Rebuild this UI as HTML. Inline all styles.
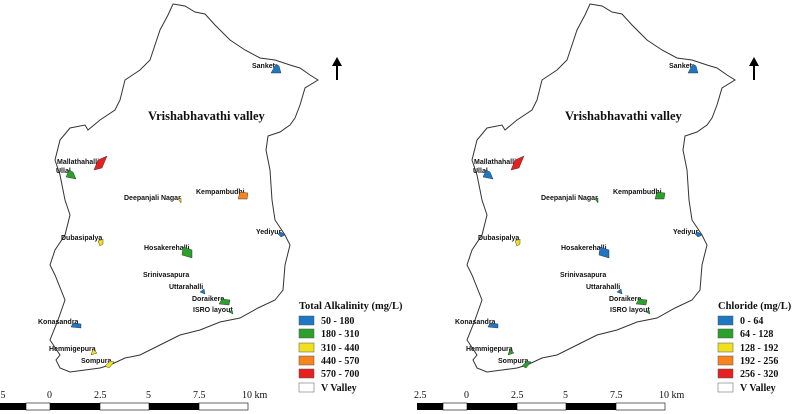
<!DOCTYPE html>
<html><head><style>
body{margin:0;background:#fff;}
svg{display:block;}
.s{font-family:"Liberation Sans",sans-serif;font-weight:bold;font-size:7px;fill:#111;}
.t{font-family:"Liberation Serif",serif;font-weight:bold;font-size:12.5px;fill:#111;}
.l{font-family:"Liberation Serif",serif;font-weight:bold;font-size:10px;fill:#111;}
.k{font-family:"Liberation Serif",serif;font-size:10px;fill:#111;}
</style></head><body>
<svg width="792" height="414" viewBox="0 0 792 414">
<defs>
<g id="map">
<path d="M173,4 L185,6 L195,12 L205,14 L215,25 L230,40 L245,50 L260,58 L275,60 L290,65 L300,68 L310,75 L318,80 L305,88 L300,105 L295,118 L290,125 L280,132 L268,136 L266,150 L270,170 L272,200 L275,220 L285,235 L290,245 L285,265 L283,290 L275,300 L258,308 L240,318 L220,322 L200,330 L180,335 L160,345 L140,355 L125,358 L110,365 L100,368 L85,370 L70,372 L60,368 L56,360 L60,355 L50,340 L58,320 L65,300 L55,275 L50,265 L55,250 L65,235 L70,215 L65,200 L60,175 L55,160 L60,140 L70,128 L85,125 L88,130 L100,120 L115,110 L120,100 L125,80 L140,70 L150,60 L155,45 L160,30 L168,15 Z" fill="#fff" stroke="#333" stroke-width="1"/>
<text class="t" x="148" y="120">Vrishabhavathi valley</text>
<path d="M337,80 L337,62" stroke="#000" stroke-width="2"/>
<path d="M332,66 L337,57 L342,66 Z" fill="#000"/>
<text class="s" x="252" y="68">Sanket</text>
<text class="s" x="57" y="164">Mallathahalli</text>
<text class="s" x="56" y="173">Ullal</text>
<text class="s" x="124" y="200">Deepanjali Nagar</text>
<text class="s" x="196" y="194">Kempambudhi</text>
<text class="s" x="256" y="234">Yediyur</text>
<text class="s" x="61" y="240">Dubasipalya</text>
<text class="s" x="144" y="250">Hosakerehalli</text>
<text class="s" x="143" y="277">Srinivasapura</text>
<text class="s" x="169" y="289">Uttarahalli</text>
<text class="s" x="192" y="301">Doraikere</text>
<text class="s" x="193" y="312">ISRO layout</text>
<text class="s" x="38" y="324">Konasandra</text>
<text class="s" x="49" y="351">Hemmigepura</text>
<text class="s" x="81" y="363">Sompura</text>
<rect x="0" y="403" width="26" height="7" fill="#000"/><rect x="26" y="403" width="24" height="7" fill="#fff" stroke="#000" stroke-width="0.6"/>
<rect x="50" y="403" width="50" height="7" fill="#000"/><rect x="100" y="403" width="49" height="7" fill="#fff" stroke="#000" stroke-width="0.6"/>
<rect x="149" y="403" width="50" height="7" fill="#000"/><rect x="199" y="403" width="49" height="7" fill="#fff" stroke="#000" stroke-width="0.6"/>
</g>
</defs>
<use href="#map"/>
<use href="#map" x="417"/>
<g stroke="#222" stroke-width="0.4">
<path d="M271,73 L276,64 L279,66 L281,73 Z" fill="#1f77c4"/>
<path d="M94,170 L98,160 L107,156 L102,168 Z" fill="#e52020"/>
<path d="M66,177 L69,170 L73,172 L76,179 Z" fill="#2ca02c"/>
<path d="M178,199 L181,198 L181,203 Z" fill="#f0e020"/>
<path d="M238,199 L240,192 L248,193 L247,199 Z" fill="#f7841e"/>
<path d="M278,234 L281,232 L285,235 L281,237 Z" fill="#1f77c4"/>
<path d="M98,241 L103,239 L103,244 L100,246 Z" fill="#f0e020"/>
<path d="M182,255 L183,247 L192,250 L192,258 Z" fill="#2ca02c"/>
<path d="M200,292 L204,289 L205,294 Z" fill="#1f77c4"/>
<path d="M219,304 L222,299 L230,300 L229,305 Z" fill="#2ca02c"/>
<path d="M229,312 L232,310 L233,314 Z" fill="#2ca02c"/>
<path d="M71,327 L73,323 L81,324 L81,328 Z" fill="#1f77c4"/>
<path d="M91,355 L93,349 L97,353 Z" fill="#f0e020"/>
<path d="M105,366 L110,361 L114,362 L109,368 Z" fill="#f0e020"/>
</g>
<g stroke="#222" stroke-width="0.4" transform="translate(417,0)">
<path d="M271,73 L276,64 L279,66 L281,73 Z" fill="#1f77c4"/>
<path d="M94,170 L98,160 L107,156 L102,168 Z" fill="#e52020"/>
<path d="M66,177 L69,170 L73,172 L76,179 Z" fill="#1f77c4"/>
<path d="M178,199 L181,198 L181,203 Z" fill="#2ca02c"/>
<path d="M238,199 L240,192 L248,193 L247,199 Z" fill="#2ca02c"/>
<path d="M278,234 L281,232 L285,235 L281,237 Z" fill="#1f77c4"/>
<path d="M98,241 L103,239 L103,244 L100,246 Z" fill="#f0e020"/>
<path d="M182,255 L183,247 L192,250 L192,258 Z" fill="#1f77c4"/>
<path d="M200,292 L204,289 L205,294 Z" fill="#1f77c4"/>
<path d="M219,304 L222,299 L230,300 L229,305 Z" fill="#2ca02c"/>
<path d="M229,312 L232,310 L233,314 Z" fill="#2ca02c"/>
<path d="M71,327 L73,323 L81,324 L81,328 Z" fill="#1f77c4"/>
<path d="M91,355 L93,349 L97,353 Z" fill="#2ca02c"/>
<path d="M105,366 L110,361 L114,362 L109,368 Z" fill="#2ca02c"/>
</g>
<g class="k">
<text x="-2" y="398">.5</text><text x="47" y="398">0</text><text x="94" y="398">2.5</text><text x="146" y="398">5</text><text x="193" y="398">7.5</text><text x="242" y="398">10 km</text>
<text x="414" y="398">2.5</text><text x="464" y="398">0</text><text x="511" y="398">2.5</text><text x="563" y="398">5</text><text x="610" y="398">7.5</text><text x="659" y="398">10 km</text>
</g>
<g>
<text class="l" x="299" y="309" style="font-size:10.5px">Total Alkalinity (mg/L)</text>
<rect x="299" y="316" width="15" height="9" fill="#1f77c4" stroke="#555" stroke-width="0.5"/><text class="l" x="321" y="324">50 - 180</text>
<rect x="299" y="329" width="15" height="9" fill="#2ca02c" stroke="#555" stroke-width="0.5"/><text class="l" x="321" y="337">180 - 310</text>
<rect x="299" y="343" width="15" height="9" fill="#f0e020" stroke="#555" stroke-width="0.5"/><text class="l" x="321" y="351">310 - 440</text>
<rect x="299" y="356" width="15" height="9" fill="#f7841e" stroke="#555" stroke-width="0.5"/><text class="l" x="321" y="364">440 - 570</text>
<rect x="299" y="369" width="15" height="9" fill="#e52020" stroke="#555" stroke-width="0.5"/><text class="l" x="321" y="377">570 - 700</text>
<rect x="299" y="383" width="15" height="9" fill="#fff" stroke="#555" stroke-width="0.5"/><text class="l" x="321" y="391">V Valley</text>
</g>
<g>
<text class="l" x="718" y="309" style="font-size:10.5px">Chloride (mg/L)</text>
<rect x="718" y="316" width="15" height="9" fill="#1f77c4" stroke="#555" stroke-width="0.5"/><text class="l" x="740" y="324">0 - 64</text>
<rect x="718" y="329" width="15" height="9" fill="#2ca02c" stroke="#555" stroke-width="0.5"/><text class="l" x="740" y="337">64 - 128</text>
<rect x="718" y="343" width="15" height="9" fill="#f0e020" stroke="#555" stroke-width="0.5"/><text class="l" x="740" y="351">128 - 192</text>
<rect x="718" y="356" width="15" height="9" fill="#f7841e" stroke="#555" stroke-width="0.5"/><text class="l" x="740" y="364">192 - 256</text>
<rect x="718" y="369" width="15" height="9" fill="#e52020" stroke="#555" stroke-width="0.5"/><text class="l" x="740" y="377">256 - 320</text>
<rect x="718" y="383" width="15" height="9" fill="#fff" stroke="#555" stroke-width="0.5"/><text class="l" x="740" y="391">V Valley</text>
</g>
</svg>
</body></html>
